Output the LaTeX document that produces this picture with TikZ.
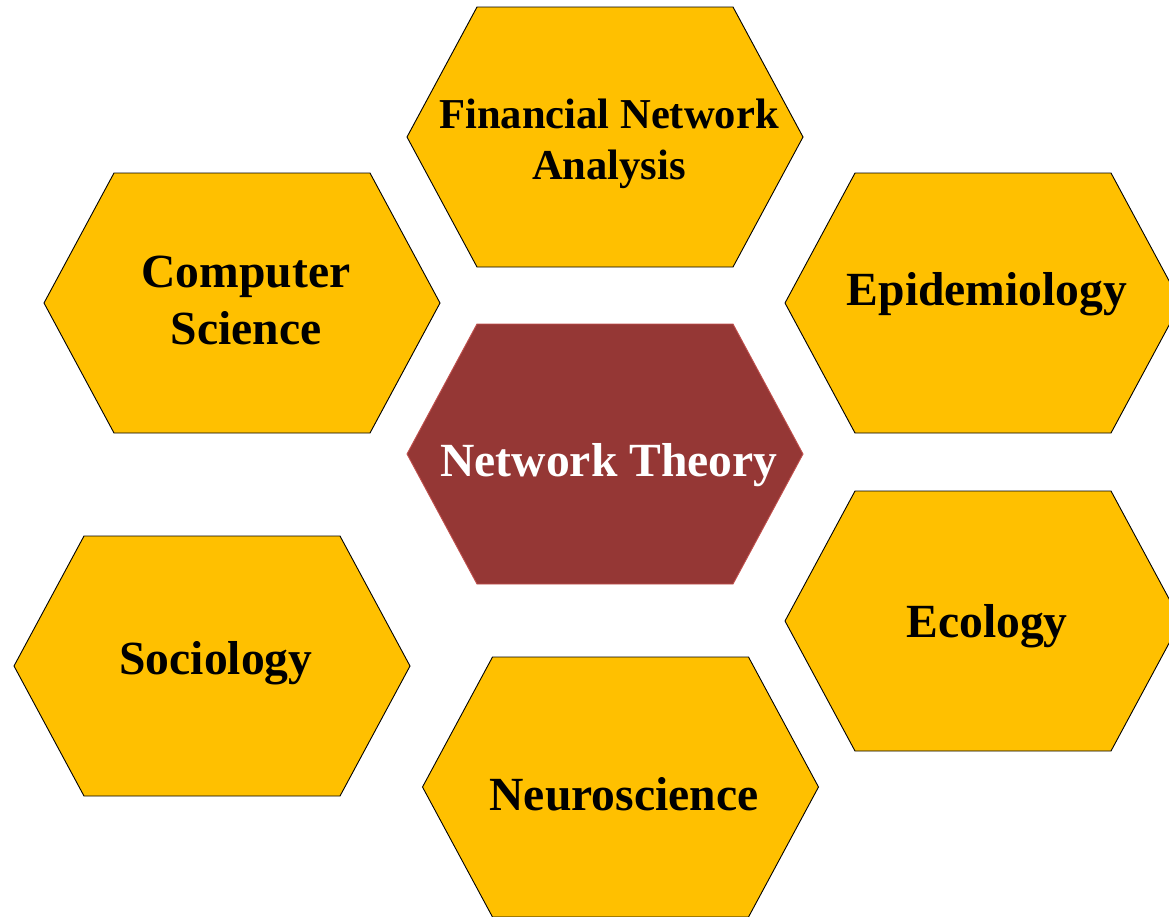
\documentclass[tikz,border=0pt]{standalone}
\usepackage{fontspec}
\setmainfont{Liberation Serif}
\definecolor{gold}{HTML}{FFC000}
\definecolor{brick}{HTML}{953735}
\definecolor{brickline}{HTML}{C0504D}
\begin{document}
\begin{tikzpicture}[x=1pt,y=-1pt,
  cell/.style={fill=gold,draw=black,line width=0.9pt,line join=miter},
  core/.style={fill=brick,draw=brickline,line width=0.9pt,line join=miter},
  lbl/.style={anchor=base,inner sep=0pt,text=black,font=\bfseries\fontsize{47.6}{57}\selectfont},
  smalllbl/.style={lbl,font=\bfseries\fontsize{42.6}{51}\selectfont},
  corelbl/.style={lbl,text=white},
  ]
\useasboundingbox (0,0) rectangle (1169,916);
\clip (0,0) rectangle (1169,916);
% flat-topped hexagon centred at (#1,#2), 396 wide and 260 high
\newcommand\hexcell[3]{\path[#3] (#1-198,#2) -- (#1-128,#2-130) -- (#1+128,#2-130) -- (#1+198,#2) -- (#1+128,#2+130) -- (#1-128,#2+130) -- cycle;}

\hexcell{605}{137}{cell}
\hexcell{242}{303}{cell}
\hexcell{983}{303}{cell}
\hexcell{605}{454}{core}
\hexcell{212}{666}{cell}
\hexcell{983}{621}{cell}
\hexcell{620.5}{787}{cell}

\node[smalllbl] (fin1) at (609,128) {Financial Network};
\node[smalllbl] (fin2) at (609,179) {Analysis};
\node[lbl] (cs1) at (246,287) {Computer};
\node[lbl] (cs2) at (246,344) {Science};
\node[lbl] (epi) at (987,305) {Epidemiology};
\node[corelbl] (net) at (609,476) {Network Theory};
\node[lbl] (soc) at (216,674) {Sociology};
\node[lbl] (eco) at (987,637) {Ecology};
\node[lbl] (neu) at (624,810) {Neuroscience};
\end{tikzpicture}
\end{document}
